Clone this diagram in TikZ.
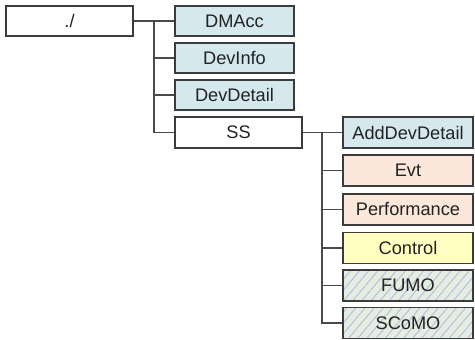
\documentclass[tikz,border=0pt]{standalone}
\usepackage{fontspec}
\setmainfont{Liberation Sans}
\usetikzlibrary{patterns.meta}
\definecolor{boxline}{HTML}{3C3C3C}
\definecolor{wireline}{HTML}{4A4A4A}
\definecolor{infoblue}{HTML}{D4E8EE}
\definecolor{peach}{HTML}{FCE8DA}
\definecolor{paleyellow}{HTML}{FFFFC2}
\definecolor{hatchbase}{HTML}{E6ECDF}
\definecolor{hatchline}{HTML}{A8C2E6}
\definecolor{labeltext}{HTML}{222222}
\begin{document}
\begin{tikzpicture}[x=1pt,y=-1pt,
  treebox/.style={draw=boxline,line width=1.1pt,minimum height=30pt,inner sep=0pt,
    text=labeltext,font=\fontsize{18.2}{18}\selectfont},
  colA/.style={treebox,minimum width=119pt},
  colB/.style={treebox,minimum width=130pt,minimum height=31pt},
  blue/.style={fill=infoblue},
  orange/.style={fill=peach},
  yellow/.style={fill=paleyellow},
  hatched/.style={preaction={fill=hatchbase},
    pattern={Lines[angle=50,distance=7pt,line width=0.9pt]},pattern color=hatchline},
  wire/.style={draw=wireline,line width=1.2pt}]
\useasboundingbox (0,0) rectangle (475,340);

% root and first level
\node[treebox,minimum width=127pt] (root) at (69.5,21) {./};
\node[colA,blue] (dmacc) at (234.5,21) {DMAcc};
\node[colA,blue] (devinfo) at (234.5,58) {DevInfo};
\node[colA,blue] (devdetail) at (234.5,95) {DevDetail};
\node[treebox,minimum width=127pt,minimum height=31pt] (ss) at (238.5,132.5) {SS};

% children of SS
\node[colB,blue] (adddev) at (408,132.5) {AddDevDetail};
\node[colB,orange] (evt) at (408,170.5) {Evt};
\node[colB,orange] (perf) at (408,209.5) {Performance};
\node[colB,yellow] (control) at (408,248) {Control};
\node[colB,hatched] (fumo) at (408,285.5) {FUMO};
\node[colB,hatched] (scomo) at (408,323) {SCoMO};

% branch points on the trunks
\coordinate (t1) at (154,21);
\coordinate (t2) at (322,132.5);

\draw[wire] (root.east) -- (dmacc.west);
\draw[wire] (t1) |- (devinfo.west);
\draw[wire] (t1) |- (devdetail.west);
\draw[wire] (t1) |- (ss.west);

\draw[wire] (ss.east) -- (adddev.west);
\draw[wire] (t2) |- (evt.west);
\draw[wire] (t2) |- (perf.west);
\draw[wire] (t2) |- (control.west);
\draw[wire] (t2) |- (fumo.west);
\draw[wire] (t2) |- (scomo.west);
\end{tikzpicture}
\end{document}
